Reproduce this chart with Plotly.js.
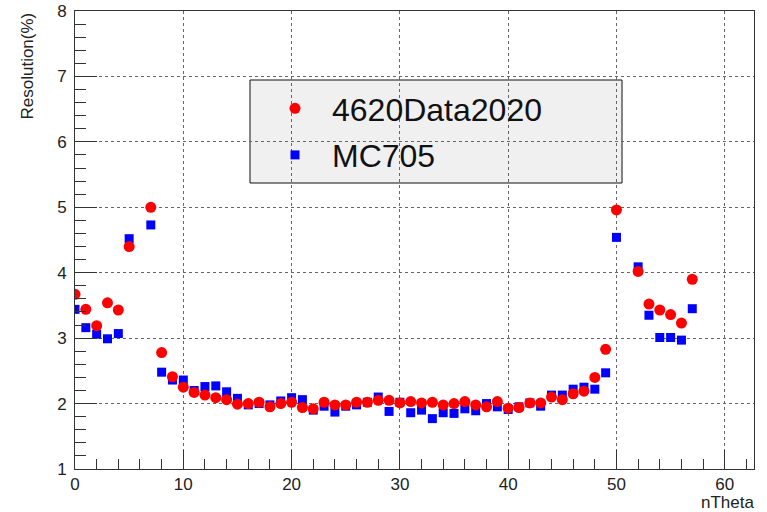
<!DOCTYPE html>
<html>
<head>
<meta charset="utf-8">
<script src="https://cdn.plot.ly/plotly-3.0.1.min.js"></script>
<style>html,body{margin:0;padding:0;background:#fff;}#chart{width:767px;height:512px;}</style>
</head>
<body>
<div id="chart"></div>
<script>
const nTheta = [0,1,2,3,4,5,7,8,9,10,11,12,13,14,15,16,17,18,19,20,21,22,23,24,25,26,27,28,29,30,31,32,33,34,35,36,37,38,39,40,41,42,43,44,45,46,47,48,49,50,52,53,54,55,56,57];
const data2020 = [3.67,3.44,3.19,3.54,3.43,4.40,5.00,2.78,2.41,2.25,2.17,2.13,2.09,2.06,1.99,2.00,2.02,1.95,2.00,2.02,1.94,1.92,2.02,1.98,1.98,2.02,2.02,2.05,2.05,2.01,2.03,2.01,2.02,1.98,2.00,2.03,1.98,1.95,2.03,1.93,1.94,2.01,2.01,2.10,2.06,2.15,2.19,2.40,2.83,4.96,4.02,3.52,3.43,3.36,3.23,3.90];
const mc705 = [3.44,3.16,3.06,2.99,3.07,4.52,4.73,2.48,2.36,2.36,2.20,2.26,2.27,2.18,2.08,1.98,2.00,1.98,2.04,2.09,2.06,1.90,1.96,1.87,1.96,1.98,2.02,2.10,1.88,2.02,1.86,1.90,1.77,1.86,1.85,1.92,1.89,2.00,1.95,1.91,1.95,2.01,1.96,2.13,2.13,2.22,2.25,2.22,2.47,4.54,4.09,3.35,3.01,3.01,2.97,3.45];
const seriesNames = ['4620Data2020','MC705'];
const xTicks = [0,10,20,30,40,50,60];
const yTicks = [1,2,3,4,5,6,7,8];

const W = 767, H = 512;
const M = {l:75, r:13, t:11, b:43};
const pw = W - M.l - M.r, ph = H - M.t - M.b;
const px2x = p => (p - M.l) / pw;
const py2y = p => (H - M.b - p) / ph;

const font = 'Liberation Sans, Arial, Helvetica, sans-serif';
const axisCommon = {
  showline: true, mirror: true, linecolor: '#333', linewidth: 1,
  ticks: 'inside', tickcolor: '#333', tickwidth: 1,
  showgrid: true, gridcolor: '#666', griddash: 'dot', gridwidth: 1,
  zeroline: false,
  tickfont: {family: font, size: 17, color: '#222'},
  tickmode: 'array'
};

const traces = [
  {x: nTheta, y: mc705, name: seriesNames[1], type: 'scatter', mode: 'markers',
   marker: {symbol: 'square', size: 9, color: '#0000ff'}, legendrank: 2, legendgroup: 'b'},
  {x: nTheta, y: data2020, name: seriesNames[0], type: 'scatter', mode: 'markers',
   marker: {symbol: 'circle', size: 11, color: '#ff0000'}, legendrank: 1, legendgroup: 'a'}
];

const layout = {
  width: W, height: H,
  margin: M,
  paper_bgcolor: '#fff', plot_bgcolor: '#fff',
  showlegend: true,
  legend: {
    x: px2x(258), y: py2y(81), xanchor: 'left', yanchor: 'top',
    bgcolor: 'rgba(0,0,0,0)', borderwidth: 0,
    font: {family: font, size: 32, color: '#111'},
    itemwidth: 64, traceorder: 'grouped', tracegroupgap: 2
  },
  xaxis: Object.assign({}, axisCommon, {
    range: [0, 62.7], tickvals: xTicks, ticktext: xTicks.map(String),
    ticklen: 19,
    minor: {dtick: 2, ticklen: 10, ticks: 'inside', tickcolor: '#333', showgrid: false}
  }),
  yaxis: Object.assign({}, axisCommon, {
    range: [1, 8], tickvals: yTicks, ticktext: yTicks.map(String),
    ticklen: 22, ticklabelstandoff: 4,
    minor: {dtick: 0.2, ticklen: 11, ticks: 'inside', tickcolor: '#333', showgrid: false}
  }),
  shapes: [{
    type: 'rect', xref: 'paper', yref: 'paper', layer: 'below',
    x0: px2x(250), x1: px2x(622), y0: py2y(183), y1: py2y(80),
    fillcolor: '#f0f0f0', line: {color: '#111', width: 1}
  }],
  annotations: [
    {text: 'Resolution(%)', xref: 'paper', yref: 'paper', x: px2x(27), y: py2y(11),
     xanchor: 'center', yanchor: 'top', textangle: -90, showarrow: false,
     font: {family: font, size: 17, color: '#222'}},
    {text: 'nTheta', xref: 'paper', yref: 'paper', x: px2x(756), y: py2y(502),
     xanchor: 'right', yanchor: 'middle', showarrow: false,
     font: {family: font, size: 17, color: '#222'}}
  ]
};

Plotly.newPlot('chart', traces, layout, {displayModeBar: false, staticPlot: true});
</script>
</body>
</html>
